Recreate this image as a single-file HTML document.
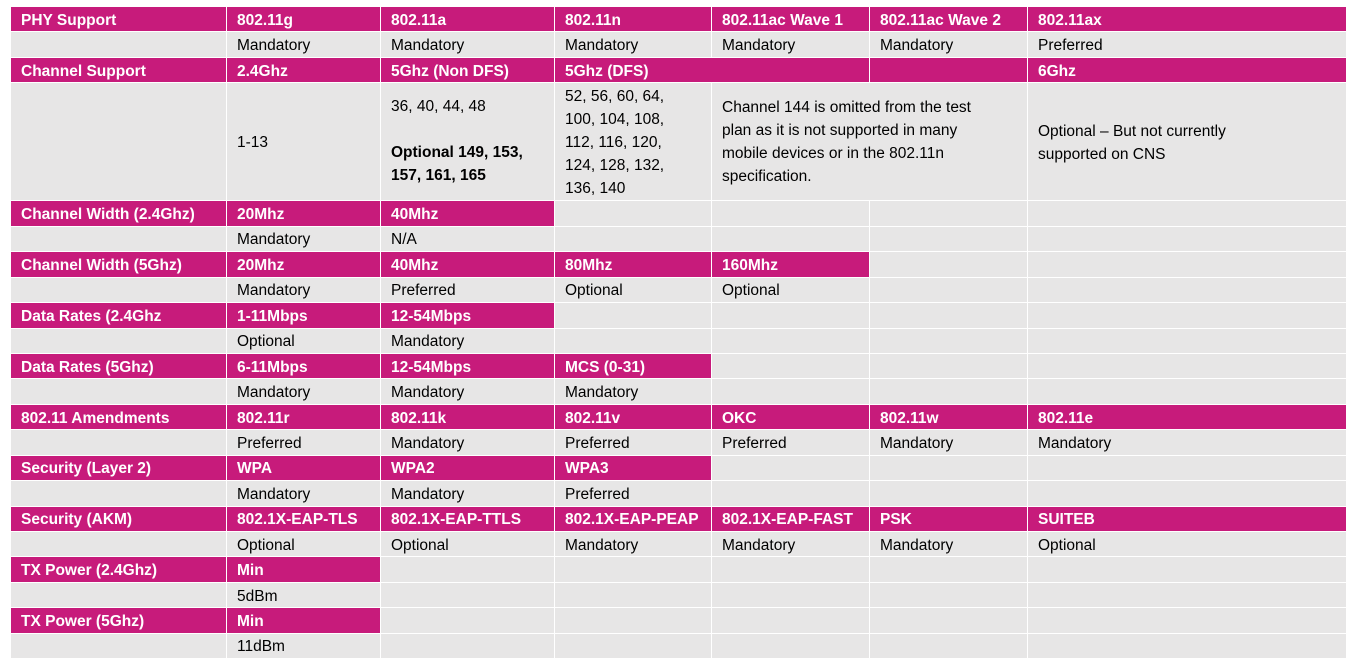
<!DOCTYPE html>
<html><head><meta charset="utf-8"><style>
body{margin:0;background:#fff;width:1351px;height:663px;overflow:hidden;font-family:"Liberation Sans",sans-serif;}
.g{position:absolute;left:11px;top:7px;display:grid;gap:1px;grid-template-columns:215px 153px 173px 156px 157px 157px 318px;grid-template-rows:repeat(3,24.44px) 117px repeat(18,24.44px);}
.g>div{background:#e7e6e6;color:#000;font-size:15.5px;padding:2px 0 0 10px;line-height:23px;white-space:nowrap;overflow:hidden;display:flex;align-items:center;box-sizing:border-box;}
.g>div.h{background:#c71b7b;color:#fff;font-weight:bold;}
.g>div.top{align-items:flex-start;}
.s2{grid-column:span 2;}
</style></head><body>
<div class="g">
<div class="h">PHY Support</div><div class="h">802.11g</div><div class="h">802.11a</div><div class="h">802.11n</div><div class="h">802.11ac Wave 1</div><div class="h">802.11ac Wave 2</div><div class="h">802.11ax</div>
<div></div><div>Mandatory</div><div>Mandatory</div><div>Mandatory</div><div>Mandatory</div><div>Mandatory</div><div>Preferred</div>
<div class="h">Channel Support</div><div class="h">2.4Ghz</div><div class="h">5Ghz (Non DFS)</div><div class="h s2">5Ghz (DFS)</div><div class="h"></div><div class="h">6Ghz</div>
<div></div><div>1-13</div><div class="top" style="padding-top:12px"><span>36, 40, 44, 48<br><br><b>Optional 149, 153,<br>157, 161, 165</b></span></div><div class="top" style="padding-top:2px"><span>52, 56, 60, 64,<br>100, 104, 108,<br>112, 116, 120,<br>124, 128, 132,<br>136, 140</span></div><div class="s2 top" style="padding-top:13px"><span>Channel 144 is omitted from the test<br>plan as it is not supported in many<br>mobile devices or in the 802.11n<br>specification.</span></div><div><span>Optional – But not currently<br>supported on CNS</span></div>
<div class="h">Channel Width (2.4Ghz)</div><div class="h">20Mhz</div><div class="h">40Mhz</div><div></div><div></div><div></div><div></div>
<div></div><div>Mandatory</div><div>N/A</div><div></div><div></div><div></div><div></div>
<div class="h">Channel Width (5Ghz)</div><div class="h">20Mhz</div><div class="h">40Mhz</div><div class="h">80Mhz</div><div class="h">160Mhz</div><div></div><div></div>
<div></div><div>Mandatory</div><div>Preferred</div><div>Optional</div><div>Optional</div><div></div><div></div>
<div class="h">Data Rates (2.4Ghz</div><div class="h">1-11Mbps</div><div class="h">12-54Mbps</div><div></div><div></div><div></div><div></div>
<div></div><div>Optional</div><div>Mandatory</div><div></div><div></div><div></div><div></div>
<div class="h">Data Rates (5Ghz)</div><div class="h">6-11Mbps</div><div class="h">12-54Mbps</div><div class="h">MCS (0-31)</div><div></div><div></div><div></div>
<div></div><div>Mandatory</div><div>Mandatory</div><div>Mandatory</div><div></div><div></div><div></div>
<div class="h">802.11 Amendments</div><div class="h">802.11r</div><div class="h">802.11k</div><div class="h">802.11v</div><div class="h">OKC</div><div class="h">802.11w</div><div class="h">802.11e</div>
<div></div><div>Preferred</div><div>Mandatory</div><div>Preferred</div><div>Preferred</div><div>Mandatory</div><div>Mandatory</div>
<div class="h">Security (Layer 2)</div><div class="h">WPA</div><div class="h">WPA2</div><div class="h">WPA3</div><div></div><div></div><div></div>
<div></div><div>Mandatory</div><div>Mandatory</div><div>Preferred</div><div></div><div></div><div></div>
<div class="h">Security (AKM)</div><div class="h">802.1X-EAP-TLS</div><div class="h">802.1X-EAP-TTLS</div><div class="h">802.1X-EAP-PEAP</div><div class="h">802.1X-EAP-FAST</div><div class="h">PSK</div><div class="h">SUITEB</div>
<div></div><div>Optional</div><div>Optional</div><div>Mandatory</div><div>Mandatory</div><div>Mandatory</div><div>Optional</div>
<div class="h">TX Power (2.4Ghz)</div><div class="h">Min</div><div></div><div></div><div></div><div></div><div></div>
<div></div><div>5dBm</div><div></div><div></div><div></div><div></div><div></div>
<div class="h">TX Power (5Ghz)</div><div class="h">Min</div><div></div><div></div><div></div><div></div><div></div>
<div></div><div>11dBm</div><div></div><div></div><div></div><div></div><div></div>
</div>
</body></html>
